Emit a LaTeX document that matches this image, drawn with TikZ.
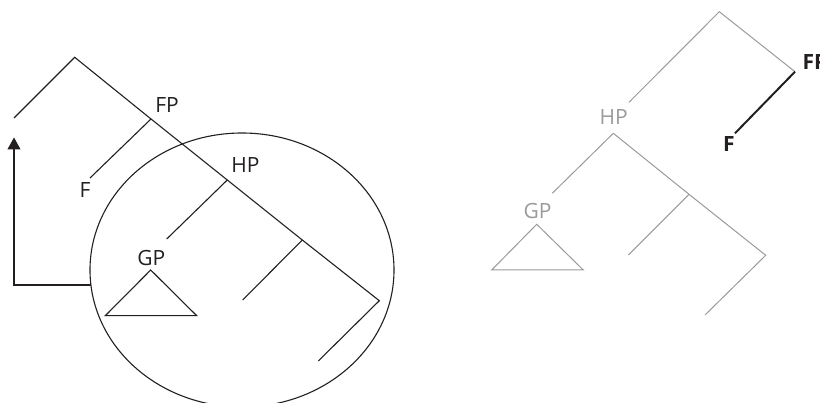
\documentclass[tikz,border=0pt]{standalone}
\usepackage{fontspec}
\setmainfont{Open Sans}
\usetikzlibrary{arrows.meta,shapes.geometric}
\definecolor{ink}{HTML}{231F20}
\definecolor{pale}{HTML}{9A9A9A}
\tikzset{
  tree/.style={draw=ink, line width=1.1pt},
  treeg/.style={draw=pale, line width=1pt},
  lab/.style={inner sep=0pt, font=\fontsize{21}{25}\selectfont, text=ink},
  labg/.style={lab, text=pale},
  labb/.style={lab, font=\fontsize{21}{25}\selectfont\bfseries},
}
\begin{document}
\begin{tikzpicture}[x=1pt,y=-1pt]
\useasboundingbox (0,0) rectangle (820,403);
\clip (0,0) rectangle (820,403);
% ---------- left tree ----------
\coordinate (a0) at (74.7,57.3);
\coordinate (a1) at (14,118);
\coordinate (fp) at (151,119);
\coordinate (fe) at (90,178);
\coordinate (hp) at (227.3,180);
\coordinate (ge) at (166.7,239);
\coordinate (j3) at (302.3,240);
\coordinate (j3e) at (242.7,300);
\coordinate (j4) at (379.3,300.7);
\coordinate (j4e) at (318.3,361);
\coordinate (tA) at (150.7,270);
\coordinate (tB) at (105.3,315.7);
\coordinate (tC) at (196.7,315.7);
\draw[tree] (a1) -- (a0) -- (fp) -- (hp) -- (j3) -- (j4) -- (j4e);
\draw[tree] (fp) -- (fe);
\draw[tree] (hp) -- (ge);
\draw[tree] (j3) -- (j3e);
\draw[tree, line join=miter] (tA) -- (tB) -- (tC) -- cycle;
\node[lab] (lfp) at (167,105.3) {FP};
\node[lab] (lhp) at (245.5,165.5) {HP};
\node[lab] (lf) at (85,190) {F};
\node[lab] (lgp) at (151.3,258.3) {GP};
\node[draw=ink, line width=1.1pt, ellipse, minimum width=304pt, minimum height=274pt, inner sep=0pt] (circ) at (242,270) {};
\coordinate (as) at (91,285);
\coordinate (ac) at (14,285);
\coordinate (at) at (14,137.5);
\draw[draw=ink, line width=1.1pt, -{Triangle[width=13pt,length=12pt]}] (as) -- (ac) -- (at);
% ---------- right tree ----------
\coordinate (b0) at (719.3,11.7);
\coordinate (b1) at (629,102.3);
\coordinate (bhp) at (613.3,133.3);
\coordinate (bge) at (552.3,193.3);
\coordinate (bj) at (689,194.3);
\coordinate (bje) at (628.3,255);
\coordinate (bm) at (765.7,255.3);
\coordinate (bme) at (705,315);
\coordinate (bfp) at (795,71.7);
\coordinate (bfe) at (735,133.3);
\coordinate (uA) at (536.7,224.3);
\coordinate (uB) at (491.7,270);
\coordinate (uC) at (583.3,270);
\draw[treeg] (b1) -- (b0) -- (bfp);
\draw[treeg] (bhp) -- (bj) -- (bm) -- (bme);
\draw[treeg] (bhp) -- (bge);
\draw[treeg] (bj) -- (bje);
\draw[treeg, line join=miter] (uA) -- (uB) -- (uC) -- cycle;
\draw[draw=ink, line width=2pt] (bfp) -- (bfe);
\node[labg] (rhp) at (613.7,117.5) {HP};
\node[labg] (rgp) at (537.5,211.5) {GP};
\node[labb] (rf) at (729,144) {F};
\node[labb, anchor=west] (rfp) at (802.5,62.5) {FP};
\end{tikzpicture}
\end{document}
